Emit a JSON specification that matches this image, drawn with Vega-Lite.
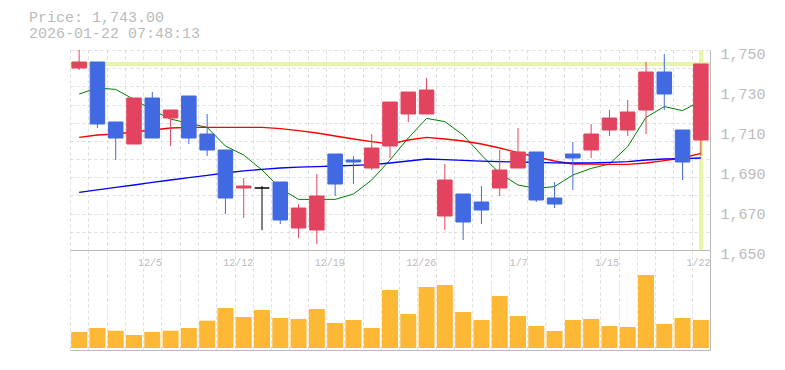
{
  "$schema": "https://vega.github.io/schema/vega-lite/v6.json",
  "padding": {"left": 29, "top": 10, "right": 20, "bottom": 20},
  "background": "white",
  "bounds": "flush",
  "spacing": 0,
  "title": {
    "text": ["Price: 1,743.00", "2026-01-22 07:48:13"],
    "anchor": "start",
    "frame": "group",
    "dx": -41,
    "dy": 20,
    "offset": 10,
    "font": "Liberation Mono",
    "fontSize": 15,
    "fontWeight": "normal",
    "color": "#bbbbbb",
    "lineHeight": 16,
    "baseline": "bottom"
  },
  "config": {"view": {"stroke": null}},
  "data": {
    "values": [
      {"date": "12/1", "open": 1741, "high": 1750, "low": 1740, "close": 1744, "ma5": 1728, "ma25": 1706.3, "ma75": 1678.8, "vol": 16000},
      {"date": "12/2", "open": 1744, "high": 1744, "low": 1711, "close": 1713, "ma5": 1731, "ma25": 1707.5, "ma75": 1680.1, "vol": 20000},
      {"date": "12/3", "open": 1714, "high": 1714, "low": 1695, "close": 1706, "ma5": 1730.3, "ma25": 1708, "ma75": 1681.3, "vol": 17300},
      {"date": "12/4", "open": 1703, "high": 1726, "low": 1703, "close": 1726, "ma5": 1725.3, "ma25": 1709, "ma75": 1682.5, "vol": 13000},
      {"date": "12/5", "open": 1726, "high": 1729, "low": 1706, "close": 1706, "ma5": 1720, "ma25": 1710, "ma75": 1683.8, "vol": 16000},
      {"date": "12/8", "open": 1716, "high": 1720, "low": 1702, "close": 1720, "ma5": 1715.5, "ma25": 1711, "ma75": 1685, "vol": 17300},
      {"date": "12/9", "open": 1727, "high": 1727, "low": 1703, "close": 1706, "ma5": 1713.3, "ma25": 1711.3, "ma75": 1686.2, "vol": 20000},
      {"date": "12/10", "open": 1708, "high": 1718, "low": 1697, "close": 1700, "ma5": 1711.3, "ma25": 1711.3, "ma75": 1687.3, "vol": 27300},
      {"date": "12/11", "open": 1700, "high": 1700, "low": 1668, "close": 1676, "ma5": 1702, "ma25": 1711.3, "ma75": 1688.5, "vol": 40000},
      {"date": "12/12", "open": 1681, "high": 1686, "low": 1666, "close": 1682, "ma5": 1697.5, "ma25": 1711.3, "ma75": 1689.6, "vol": 31000},
      {"date": "12/15", "open": 1681, "high": 1682, "low": 1660, "close": 1681, "ma5": 1690, "ma25": 1711.3, "ma75": 1690.3, "vol": 38000},
      {"date": "12/16", "open": 1684, "high": 1684, "low": 1663, "close": 1665, "ma5": 1680.8, "ma25": 1710.7, "ma75": 1691, "vol": 30000},
      {"date": "12/17", "open": 1661, "high": 1673, "low": 1656, "close": 1671, "ma5": 1675.3, "ma25": 1709.7, "ma75": 1691.4, "vol": 29000},
      {"date": "12/18", "open": 1660, "high": 1688, "low": 1653, "close": 1677, "ma5": 1675.3, "ma25": 1708.5, "ma75": 1691.7, "vol": 39000},
      {"date": "12/19", "open": 1698, "high": 1698, "low": 1677, "close": 1683, "ma5": 1675.3, "ma25": 1707, "ma75": 1692, "vol": 25000},
      {"date": "12/22", "open": 1695, "high": 1697, "low": 1683, "close": 1694, "ma5": 1678, "ma25": 1705.5, "ma75": 1692.3, "vol": 28000},
      {"date": "12/23", "open": 1691, "high": 1708, "low": 1690, "close": 1701, "ma5": 1685, "ma25": 1704.2, "ma75": 1692.7, "vol": 20000},
      {"date": "12/24", "open": 1702, "high": 1724, "low": 1696, "close": 1724, "ma5": 1695, "ma25": 1703, "ma75": 1693.5, "vol": 58000},
      {"date": "12/25", "open": 1718, "high": 1729, "low": 1714, "close": 1729, "ma5": 1706, "ma25": 1705, "ma75": 1694.5, "vol": 34000},
      {"date": "12/26", "open": 1718, "high": 1736, "low": 1718, "close": 1730, "ma5": 1715.8, "ma25": 1706.3, "ma75": 1695.5, "vol": 61000},
      {"date": "12/29", "open": 1667, "high": 1693, "low": 1660, "close": 1685, "ma5": 1714.2, "ma25": 1705.5, "ma75": 1695.2, "vol": 63000},
      {"date": "12/30", "open": 1678, "high": 1678, "low": 1655, "close": 1664, "ma5": 1707.5, "ma25": 1704.5, "ma75": 1694.8, "vol": 36000},
      {"date": "1/5", "open": 1674, "high": 1682, "low": 1663, "close": 1670, "ma5": 1697.5, "ma25": 1703, "ma75": 1694.4, "vol": 28000},
      {"date": "1/6", "open": 1681, "high": 1700, "low": 1677, "close": 1690, "ma5": 1688.3, "ma25": 1701, "ma75": 1694.2, "vol": 52000},
      {"date": "1/7", "open": 1691, "high": 1711, "low": 1691, "close": 1699, "ma5": 1682.5, "ma25": 1698.7, "ma75": 1694, "vol": 32000},
      {"date": "1/8", "open": 1699, "high": 1699, "low": 1674, "close": 1675, "ma5": 1680.8, "ma25": 1696.5, "ma75": 1693.8, "vol": 22000},
      {"date": "1/9", "open": 1676, "high": 1684, "low": 1671, "close": 1673, "ma5": 1681.7, "ma25": 1694.5, "ma75": 1693.6, "vol": 17000},
      {"date": "1/13", "open": 1698, "high": 1704, "low": 1680, "close": 1696, "ma5": 1687.5, "ma25": 1693, "ma75": 1693.5, "vol": 28000},
      {"date": "1/14", "open": 1700, "high": 1713, "low": 1696, "close": 1708, "ma5": 1690.8, "ma25": 1693, "ma75": 1693.6, "vol": 29000},
      {"date": "1/15", "open": 1710, "high": 1720, "low": 1707, "close": 1716, "ma5": 1693, "ma25": 1692.8, "ma75": 1693.8, "vol": 22000},
      {"date": "1/16", "open": 1710, "high": 1725, "low": 1707, "close": 1719, "ma5": 1701.7, "ma25": 1692.8, "ma75": 1694.2, "vol": 21000},
      {"date": "1/19", "open": 1720, "high": 1744, "low": 1708, "close": 1739, "ma5": 1716.3, "ma25": 1693.5, "ma75": 1695, "vol": 73000},
      {"date": "1/20", "open": 1739, "high": 1748, "low": 1720, "close": 1728, "ma5": 1721.7, "ma25": 1694.7, "ma75": 1695.5, "vol": 24000},
      {"date": "1/21", "open": 1710, "high": 1710, "low": 1685, "close": 1694, "ma5": 1719.7, "ma25": 1696, "ma75": 1695.7, "vol": 30000},
      {"date": "1/22", "open": 1705, "high": 1743, "low": 1697, "close": 1743, "ma5": 1724.5, "ma25": 1698.3, "ma75": 1696, "vol": 28000}
    ]
  },
  "vconcat": [
    {
      "width": 640,
      "height": 200,
      "resolve": {"axis": {"y": "independent"}},
      "layer": [
        {
          "mark": {"type": "rule", "color": "#e6f5a6", "strokeWidth": 3},
          "encoding": {
            "y": {
              "datum": 1743,
              "type": "quantitative",
              "scale": {"domain": [1650, 1750], "nice": false, "zero": false},
              "axis": {
                "orient": "left",
                "values": [1650, 1659.0909, 1668.1818, 1677.2727, 1686.3636, 1695.4545, 1704.5455, 1713.6364, 1722.7273, 1731.8182, 1740.9091, 1750],
                "grid": true,
                "gridColor": "#dddddd",
                "gridDash": [3, 3],
                "labels": false,
                "ticks": false,
                "domain": false,
                "title": null
              }
            }
          }
        },
        {
          "mark": {"type": "rule", "color": "#e6f5a6", "strokeWidth": 3},
          "encoding": {
            "x": {
              "datum": "1/22", "type": "ordinal",
              "scale": {
                "domain": ["12/1","12/2","12/3","12/4","12/5","12/8","12/9","12/10","12/11","12/12","12/15","12/16","12/17","12/18","12/19","12/22","12/23","12/24","12/25","12/26","12/29","12/30","1/5","1/6","1/7","1/8","1/9","1/13","1/14","1/15","1/16","1/19","1/20","1/21","1/22"],
                "paddingInner": 0, "paddingOuter": 0
              }
            }
          }
        },
        {
          "mark": {"type": "line", "color": "#008000", "strokeWidth": 1},
          "encoding": {
            "x": {
              "field": "date", "type": "ordinal", "sort": null,
              "scale": {
                "domain": ["12/1","12/2","12/3","12/4","12/5","12/8","12/9","12/10","12/11","12/12","12/15","12/16","12/17","12/18","12/19","12/22","12/23","12/24","12/25","12/26","12/29","12/30","1/5","1/6","1/7","1/8","1/9","1/13","1/14","1/15","1/16","1/19","1/20","1/21","1/22"],
                "paddingInner": 0, "paddingOuter": 0
              },
              "axis": {
                "orient": "bottom",
                "tickBand": "extent",
                "grid": true,
                "gridColor": "#dddddd",
                "gridDash": [3, 3],
                "ticks": false,
                "tickSize": 0,
                "domain": true,
                "domainColor": "#bbbbbb",
                "labelAngle": 0,
                "labelFont": "Liberation Mono",
                "labelFontSize": 10,
                "labelColor": "#bbbbbb",
                "labelPadding": 12,
                "labelOffset": 9.14,
                "labelOverlap": false,
                "labelExpr": "indexof(['12/5','12/12','12/19','12/26','1/7','1/15','1/22'], datum.value) >= 0 ? datum.value : ''",
                "title": null
              }
            },
            "y": {"field": "ma5", "type": "quantitative", "scale": {"domain": [1650, 1750], "nice": false, "zero": false}, "axis": null}
          }
        },
        {
          "mark": {"type": "line", "color": "#ff0000", "strokeWidth": 1.3},
          "encoding": {
            "x": {"field": "date", "type": "ordinal", "sort": null},
            "y": {"field": "ma25", "type": "quantitative", "scale": {"domain": [1650, 1750], "nice": false, "zero": false}, "axis": null}
          }
        },
        {
          "mark": {"type": "line", "color": "#0000ff", "strokeWidth": 1.3},
          "encoding": {
            "x": {"field": "date", "type": "ordinal", "sort": null},
            "y": {"field": "ma75", "type": "quantitative", "scale": {"domain": [1650, 1750], "nice": false, "zero": false}, "axis": null}
          }
        },
        {
          "mark": {"type": "rule", "strokeWidth": 1},
          "encoding": {
            "x": {"field": "date", "type": "ordinal", "sort": null},
            "y": {"field": "low", "type": "quantitative", "scale": {"domain": [1650, 1750], "nice": false, "zero": false}, "axis": null},
            "y2": {"field": "high"},
            "color": {
              "condition": [
                {"test": "datum.close > datum.open", "value": "#e2445f"},
                {"test": "datum.close < datum.open", "value": "#4169e1"}
              ],
              "value": "#000000"
            }
          }
        },
        {
          "mark": {"type": "bar", "width": 14.5, "strokeWidth": 1},
          "encoding": {
            "x": {"field": "date", "type": "ordinal", "sort": null},
            "y": {
              "field": "open",
              "type": "quantitative",
              "scale": {"domain": [1650, 1750], "nice": false, "zero": false},
              "axis": {
                "orient": "right",
                "values": [1650, 1670, 1690, 1710, 1730, 1750],
                "format": ",d",
                "grid": false,
                "ticks": false,
                "tickSize": 0,
                "domain": true,
                "domainColor": "#bbbbbb",
                "labelFont": "Liberation Mono",
                "labelFontSize": 15,
                "labelColor": "#bbbbbb",
                "labelPadding": 10,
                "labelBaseline": "middle",
                "labelOffset": 3,
                "title": null
              }
            },
            "y2": {"field": "close"},
            "fill": {
              "condition": [
                {"test": "datum.close > datum.open", "value": "#e2445f"},
                {"test": "datum.close < datum.open", "value": "#4169e1"}
              ],
              "value": "#000000"
            },
            "stroke": {
              "condition": [
                {"test": "datum.close > datum.open", "value": "#e2445f"},
                {"test": "datum.close < datum.open", "value": "#4169e1"}
              ],
              "value": "#000000"
            }
          }
        }
      ]
    },
    {
      "width": 640,
      "height": 100,
      "mark": {"type": "bar", "color": "#fdb836", "width": 16},
      "encoding": {
        "x": {
          "field": "date", "type": "ordinal", "sort": null,
          "scale": {"paddingInner": 0, "paddingOuter": 0},
          "axis": {
            "orient": "bottom",
            "tickBand": "extent",
            "grid": true,
            "gridColor": "#dddddd",
            "gridDash": [3, 3],
            "ticks": false,
            "labels": false,
            "domain": true,
            "domainColor": "#bbbbbb",
            "title": null
          }
        },
        "y": {
          "field": "vol",
          "type": "quantitative",
          "scale": {"domain": [-2000, 98000], "nice": false, "zero": false},
          "axis": {
            "orient": "right",
            "domain": true,
            "domainColor": "#bbbbbb",
            "ticks": false,
            "labels": false,
            "grid": false,
            "title": null
          }
        }
      }
    }
  ]
}
